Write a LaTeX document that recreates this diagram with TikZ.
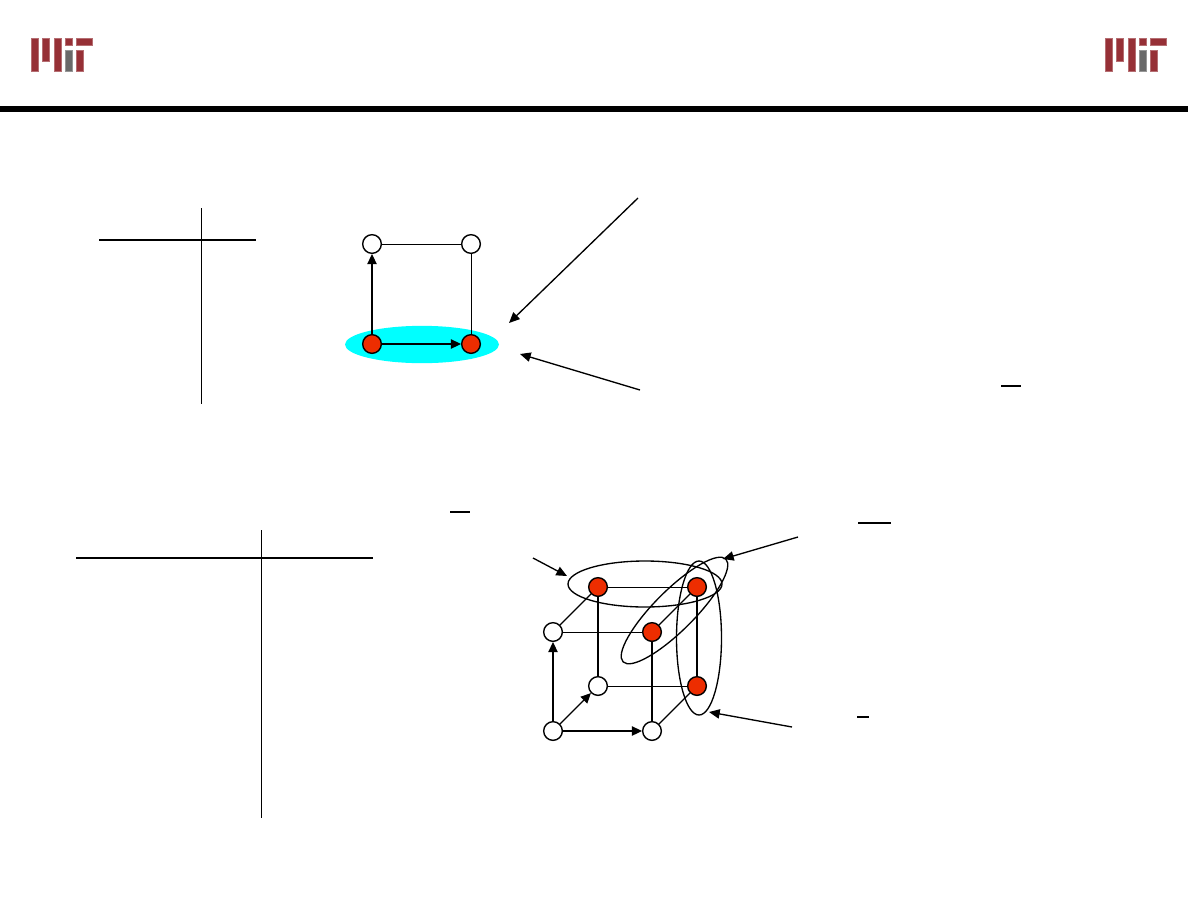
\documentclass[tikz,border=0pt]{standalone}
\usetikzlibrary{arrows.meta,shapes.geometric}
\definecolor{mitred}{RGB}{150,48,54}
\definecolor{mitgrey}{RGB}{105,105,105}
\definecolor{hotred}{RGB}{237,45,0}
\definecolor{halo}{RGB}{0,255,255}
\tikzset{
  px/.style={x=0.75pt,y=-0.75pt},
  vertex/.style={circle,draw=black,line width=1.05pt,minimum size=14pt,inner sep=0pt,fill=white},
  hot/.style={vertex,fill=hotred},
  edge/.style={draw=black,line width=0.72pt},
  slantedge/.style={draw=black,line width=1pt},
  thickedge/.style={draw=black,line width=1.5pt},
  dirarrow/.style={draw=black,line width=0.9pt,-{Triangle[length=7.5pt,width=7pt]}},
  callout/.style={draw=black,line width=1pt,-{Triangle[length=8pt,width=7pt]}},
  ring/.style={ellipse,draw=black,line width=1pt,inner sep=0pt,fill=none},
  rule/.style={draw=black,line width=1.2pt},
  axisline/.style={draw=black,line width=0.7pt},
  logored/.style={fill=mitred,draw=mitred!70!white,line width=0.4pt},
  logogrey/.style={fill=mitgrey,draw=mitgrey!70!white,line width=0.4pt}
}
\newcommand{\mitlogo}[1]{%
  \begin{scope}[shift={(#1,0)}]
    \filldraw[logored] (31.3,38.3) rectangle (38.3,71.6);
    \filldraw[logored] (42.7,38.3) rectangle (49.3,61.3);
    \filldraw[logored] (54,38.3) rectangle (61,71.6);
    \filldraw[logored] (65.3,38.3) rectangle (72.3,45.3);
    \filldraw[logogrey] (65.3,50) rectangle (72.3,71.6);
    \filldraw[logored] (76.3,38.3) rectangle (92.6,45.3);
    \filldraw[logored] (76.3,50) rectangle (83.3,71.6);
  \end{scope}}
\begin{document}
\begin{tikzpicture}[px]
\useasboundingbox (0,0) rectangle (1188,918);
\fill[white] (0,0) rectangle (1188,918);
% header
\mitlogo{0}
\mitlogo{1074}
\fill[black] (0,106) rectangle (1188,112);
% tables
\draw[axisline] (201,208) -- (201,404);
\draw[rule] (99,240) -- (256,240);
\draw[axisline] (261.6,530) -- (261.6,818);
\draw[rule] (76,558) -- (373,558);
% overlines
\draw[rule] (1001,386) -- (1021,386);
\draw[rule] (450,512) -- (470,512);
\draw[rule] (858,523) -- (891,523);
\draw[rule] (857,717) -- (869,717);
% square
\node[ellipse,fill=halo,draw=none,minimum width=115.5pt,minimum height=28pt,inner sep=0pt] (band) at (422,344.5) {};
\node[vertex] (s01) at (372,244) {};
\node[vertex] (s11) at (471,244) {};
\node[hot] (h00) at (372,344) {};
\node[hot] (h10) at (471,344) {};
\draw[edge] (s01) -- (s11);
\draw[edge] (s11) -- (h10);
\draw[dirarrow] (h00) -- (s01);
\draw[dirarrow] (h00) -- (h10);
\coordinate (t1) at (638,198);
\coordinate (t1e) at (509,323);
\coordinate (t2) at (640,390);
\coordinate (t2e) at (520,354);
\draw[callout] (t1) -- (t1e);
\draw[callout] (t2) -- (t2e);
% cube
\node[vertex] (a) at (553,731) {};
\node[vertex] (b) at (652,731) {};
\node[vertex] (c) at (598,686) {};
\node[hot] (d) at (697,686) {};
\node[vertex] (e) at (553,632) {};
\node[hot] (f) at (652,632) {};
\node[hot] (g) at (598,587) {};
\node[hot] (h) at (697,587) {};
\draw[dirarrow] (a) -- (e);
\draw[dirarrow] (a) -- (b);
\draw[dirarrow] (a) -- (c);
\draw[slantedge] (b) -- (d);
\draw[edge] (c) -- (d);
\draw[edge] (e) -- (f);
\draw[slantedge] (e) -- (g);
\draw[slantedge] (f) -- (h);
\draw[edge] (g) -- (h);
\draw[thickedge] (c) -- (g);
\draw[thickedge] (b) -- (f);
\draw[thickedge] (d) -- (h);
% groups
\node[ring,minimum width=115.5pt,minimum height=34.5pt] (topring) at (645,584) {};
\node[ring,minimum width=33.75pt,minimum height=115.5pt] (sidering) at (699,638) {};
\node[ring,minimum width=109pt,minimum height=30pt,rotate=45] (diagring) at (674.5,610.5) {};
\coordinate (c1) at (533,558);
\coordinate (c1e) at (567,576);
\coordinate (c2) at (798,537);
\coordinate (c2e) at (723,559);
\coordinate (c3) at (792,727);
\coordinate (c3e) at (709,712);
\draw[callout] (c1) -- (c1e);
\draw[callout] (c2) -- (c2e);
\draw[callout] (c3) -- (c3e);
\end{tikzpicture}
\end{document}
